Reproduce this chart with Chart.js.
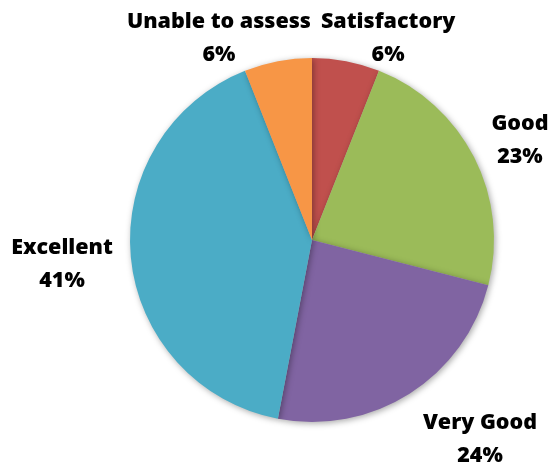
<!DOCTYPE html>
<html>
<head>
<meta charset="utf-8">
<script src="https://cdn.jsdelivr.net/npm/chart.js@4/dist/chart.umd.min.js"></script>
<style>
  html, body { margin: 0; padding: 0; background: #ffffff; }
  #wrap { width: 550px; height: 467px; position: relative; }
</style>
</head>
<body>
<div id="wrap"><canvas id="pie" width="550" height="467"></canvas></div>
<script>
// Rating categories, clockwise from 12 o'clock
const categories = ['Satisfactory', 'Good', 'Very Good', 'Excellent', 'Unable to assess'];
// Share of responses (%)
const shares = [6, 23, 24, 41, 6];
const sliceColors = ['#C0504D', '#9BBB59', '#8064A2', '#4BACC6', '#F79646'];

// Where each two-line label sits: angle (deg, clockwise from top) and distance in radii
const labelLayout = [
  { angle: 20.7, dist: 1.183 },
  { angle: 64.4, dist: 1.267 },
  { angle: 139.9, dist: 1.433 },
  { angle: 264.4, dist: 1.380 },
  { angle: -24.8, dist: 1.219 }
];

const LABEL_FONT = '800 21.5px "Open Sans", Lato, sans-serif';
const LINE_GAP = 33;

// Soft drop shadow under the pie
const shadowPlugin = {
  id: 'pieShadow',
  beforeDatasetsDraw(chart) {
    const ctx = chart.ctx;
    ctx.save();
    ctx.shadowColor = 'rgba(0,0,0,0.35)';
    ctx.shadowBlur = 6;
    ctx.shadowOffsetX = 1.5;
    ctx.shadowOffsetY = 1.5;
  },
  afterDatasetsDraw(chart) {
    chart.ctx.restore();
  }
};

// Category name and percentage drawn around the pie
const outsideLabels = {
  id: 'outsideLabels',
  afterDraw(chart) {
    const ctx = chart.ctx;
    const meta = chart.getDatasetMeta(0);
    const data = chart.data.datasets[0].data;
    ctx.save();
    ctx.font = LABEL_FONT;
    ctx.fillStyle = '#000000';
    ctx.textAlign = 'center';
    ctx.textBaseline = 'middle';
    meta.data.forEach((arc, i) => {
      const { x, y, outerRadius } = arc.getProps(['x', 'y', 'outerRadius'], true);
      const lay = labelLayout[i];
      const a = lay.angle * Math.PI / 180;
      const cx = x + Math.sin(a) * outerRadius * lay.dist;
      const cy = y - Math.cos(a) * outerRadius * lay.dist;
      ctx.fillText(chart.data.labels[i], cx, cy - LINE_GAP / 2);
      ctx.fillText(data[i] + '%', cx, cy + LINE_GAP / 2);
    });
    ctx.restore();
  }
};

new Chart(document.getElementById('pie'), {
  type: 'pie',
  data: {
    labels: categories,
    datasets: [{
      data: shares,
      backgroundColor: sliceColors,
      borderWidth: 0
    }]
  },
  options: {
    responsive: false,
    animation: false,
    devicePixelRatio: 1,
    layout: { padding: { left: 130, right: 56, top: 58, bottom: 45 } },
    plugins: {
      legend: { display: false },
      tooltip: { enabled: false }
    }
  },
  plugins: [shadowPlugin, outsideLabels]
});
</script>
</body>
</html>
